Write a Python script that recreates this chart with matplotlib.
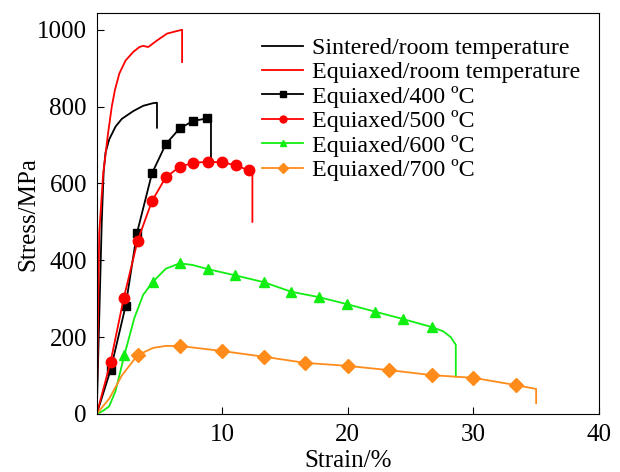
import numpy as np
import matplotlib.pyplot as plt

plt.rcParams['font.family'] = ['Liberation Serif', 'DejaVu Serif']

labels = ['Sintered/room temperature', 'Equiaxed/room temperature',
          'Equiaxed/400 ºC', 'Equiaxed/500 ºC', 'Equiaxed/600 ºC', 'Equiaxed/700 ºC']

sint_x = [0, 0.2, 0.4, 0.55, 0.7, 1.0, 1.5, 2.0, 2.9, 3.7, 4.5, 4.8, 4.8]
sint_y = [0, 250, 500, 630, 680, 715, 748, 768, 788, 802, 809, 810, 745]

eqrt_x = [0, 0.2, 0.5, 0.9, 1.2, 1.45, 1.8, 2.3, 2.9, 3.4, 3.7, 4.1, 4.8, 5.6, 6.2, 6.8, 6.8]
eqrt_y = [0, 470, 620, 730, 800, 843, 886, 920, 942, 955, 958, 955, 972, 990, 995, 1000, 916]

e400_x = [0, 1.1, 2.3, 3.2, 4.4, 5.5, 6.6, 7.7, 8.8, 9.1, 9.1]
e400_y = [0, 114, 281, 470, 626, 702, 743, 763, 769, 770, 660]
e400_m = [1, 2, 3, 4, 5, 6, 7, 8]

e500_x = [0, 1.1, 2.15, 3.25, 4.4, 5.5, 6.6, 7.7, 8.85, 10.0, 11.1, 12.1, 12.4, 12.4]
e500_y = [0, 135, 301, 450, 554, 616, 643, 654, 656, 655, 647, 634, 630, 500]
e500_m = [1, 2, 3, 4, 5, 6, 7, 8, 9, 10, 11]

e600_x = [0, 0.5, 1.0, 1.5, 2.2, 3.0, 3.7, 4.45, 5.5, 6.6, 7.6, 8.85, 11.0, 13.3,
          15.5, 17.7, 19.9, 22.2, 24.4, 26.7, 27.6, 28.2, 28.6, 28.6]
e600_y = [0, 8, 20, 60, 153, 250, 310, 343, 378, 392, 388, 377, 361, 343,
          318, 304, 286, 266, 247, 226, 215, 200, 180, 97]
e600_m = [4, 7, 9, 11, 12, 13, 14, 15, 16, 17, 18, 19]

e700_x = [0, 1.0, 2.0, 3.25, 4.5, 5.5, 6.6, 9.95, 13.3, 16.6, 20.0, 23.3, 26.7,
          30.0, 33.4, 35.0, 35.0]
e700_y = [0, 40, 100, 153, 172, 177, 177, 164, 149, 133, 125, 114, 101,
          94, 75, 65, 28]
e700_m = [3, 6, 7, 8, 9, 10, 11, 12, 13, 14]

fig = plt.figure(figsize=(6.2, 4.72), dpi=100)
ax = fig.add_axes([0.156, 0.123, 0.81, 0.849])

lw = 1.3
ax.plot(sint_x, sint_y, color='black', lw=lw, label=labels[0])
ax.plot(eqrt_x, eqrt_y, color='#ff0000', lw=lw, label=labels[1])
ax.plot(e400_x, e400_y, color='black', lw=lw, marker='s', ms=6, markevery=e400_m, label=labels[2])
ax.plot(e500_x, e500_y, color='#ff0000', lw=lw, marker='o', ms=7.5, markevery=e500_m, label=labels[3])
ax.plot(e600_x, e600_y, color='#11ee11', lw=lw, marker='^', ms=7.5, markevery=e600_m, label=labels[4])
ax.plot(e700_x, e700_y, color='#ff8c1a', lw=lw, marker='D', ms=7, markevery=e700_m, label=labels[5])

ax.set_xlim(0, 40)
ax.set_ylim(0, 1043)
ax.set_xticks([10, 20, 30, 40])
ax.set_yticks([0, 200, 400, 600, 800, 1000])
ax.tick_params(direction='in', length=5, labelsize=18, pad=7, top=False, right=False)
ax.set_xlabel('Strain/%', fontsize=18, labelpad=3)
ax.set_ylabel('Stress/MPa', fontsize=18, labelpad=-2)

leg = ax.legend(loc='upper left', bbox_to_anchor=(0.33, 0.94), frameon=False,
                fontsize=17.3, handlelength=1.7, handletextpad=0.35,
                labelspacing=0.1, borderaxespad=0, borderpad=0)
for h in leg.legend_handles:
    h.set_markersize(5)

fig.savefig('out.png', dpi=100)
